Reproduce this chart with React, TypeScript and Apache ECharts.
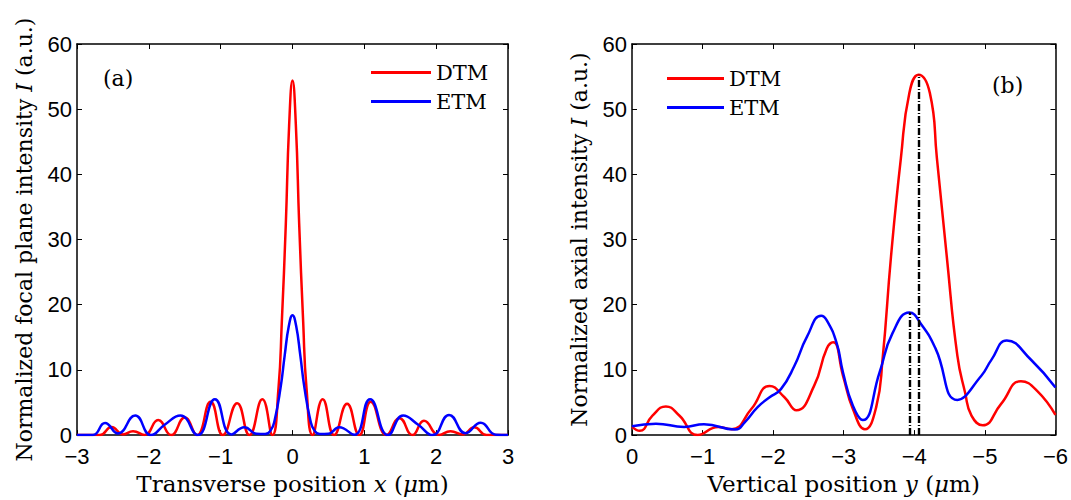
import React, { useEffect, useRef } from 'react';
import * as echarts from 'echarts';

// ---- Panel (a): transverse position x (µm) ----
const aDtmX = [-3, -2.68, -2.52, -2.36, -2.22, -2.06, -1.87, -1.69, -1.5, -1.33, -1.14, -0.97, -0.77, -0.6, -0.42, -0.28, -0.195, -0.149, -0.093, -0.047, 0, 0.047, 0.093, 0.149, 0.195, 0.28, 0.42, 0.58, 0.76, 0.93, 1.09, 1.31, 1.49, 1.67, 1.83, 2.04, 2.2, 2.37, 2.53, 2.7, 3];
const aDtmY = [0, 0.02, 1.25, 0.1, 0.6, 0.03, 2.3, 0, 2.7, 0, 5.1, 0, 4.9, 0, 5.5, 0, 7.2, 17.3, 32.4, 47.5, 54.4, 47.5, 32.4, 17.3, 7.2, 0, 5.5, 0, 4.8, 0, 5.1, 0, 2.6, 0, 2.2, 0.03, 0.6, 0.1, 1.2, 0.02, 0];
const aEtmX = [-3, -2.78, -2.61, -2.43, -2.19, -1.97, -1.78, -1.56, -1.32, -1.08, -0.85, -0.67, -0.5, -0.38, -0.3, -0.25, -0.167, -0.109, -0.05, 0, 0.05, 0.109, 0.167, 0.25, 0.3, 0.38, 0.5, 0.65, 0.86, 1.08, 1.33, 1.54, 1.75, 1.95, 2.18, 2.41, 2.62, 2.83, 3];
const aEtmY = [0, 0.02, 1.86, 0.25, 3.0, 0, 1.6, 3.0, 0, 5.5, 0.1, 1.2, 0.2, 0.15, 0.8, 2.2, 7.2, 12.2, 16.8, 18.4, 16.8, 12.2, 7.2, 2.2, 0.8, 0.15, 0.2, 1.2, 0.05, 5.5, 0, 3.0, 1.6, 0, 3.1, 0.3, 1.9, 0.05, 0];

// ---- Panel (b): vertical position y (µm) ----
const bDtmX = [0, -0.11, -0.29, -0.48, -0.67, -0.93, -1.22, -1.41, -1.69, -1.95, -2.16, -2.33, -2.58, -2.76, -2.85, -2.99, -3.13, -3.3, -3.46, -3.55, -3.67, -3.81, -3.93, -4.06, -4.22, -4.32, -4.46, -4.61, -4.72, -4.81, -4.97, -5.23, -5.51, -5.74, -6];
const bDtmY = [1.26, 0.65, 3.0, 4.4, 3.0, 0, 1.26, 0.9, 4.0, 7.55, 5.8, 3.8, 7.55, 13.3, 14.25, 9.1, 4.0, 0.9, 4.3, 11.6, 27.4, 42.5, 52.5, 55.3, 52.5, 42.5, 27.4, 12.2, 6.5, 3.0, 1.5, 4.8, 8.26, 6.8, 3.1];
const bEtmX = [0, -0.34, -0.74, -1.02, -1.46, -1.6, -1.78, -1.95, -2.11, -2.3, -2.48, -2.68, -2.76, -2.9, -2.99, -3.13, -3.27, -3.51, -3.69, -3.93, -4.11, -4.3, -4.61, -4.95, -5.09, -5.31, -5.65, -6];
const bEtmY = [1.36, 1.76, 1.26, 1.66, 0.86, 2.0, 4.3, 5.8, 7.05, 10.6, 15.1, 18.3, 17.6, 14.1, 9.6, 4.5, 2.3, 9.7, 15.6, 18.8, 16.8, 13.3, 5.4, 9.1, 11.5, 14.5, 11.6, 7.3];

// peak markers (dash-dot lines) in panel (b)
const peakX = [-3.93, -4.06];
const peakY = [18.8, 55.3];

const seriesNames = ['DTM', 'ETM'];
const yTicks = { min: 0, max: 60, interval: 10 };

const zip = (xs: number[], ys: number[]) => xs.map((x, i) => [x, ys[i]]);
const fmt = (v: number) => (v < 0 ? '\u2212' + Math.abs(v) : String(v));

export default function App() {
  const ref = useRef<HTMLDivElement>(null);
  useEffect(() => {
    if (!ref.current) return;
    const chart = echarts.init(ref.current, undefined, { renderer: 'svg' });
    const serif = 'DejaVu Serif';
    const sans = 'Liberation Sans';
    const axisLine = { show: true, onZero: false, lineStyle: { color: '#000', width: 1.5 } };
    const axisTick = { show: true, inside: true, length: 5, lineStyle: { color: '#000', width: 1 } };
    const label = { fontFamily: sans, fontSize: 22, color: '#000' };
    const nameStyle = (size: number) => ({
      fontFamily: serif,
      fontSize: size,
      color: '#000',
      rich: {
        i: { fontFamily: serif, fontSize: size, fontStyle: 'italic', color: '#000' },
      },
    });
    const grids = [
      { left: 77, right: 563, top: 44, bottom: 59 },
      { left: 632, right: 9, top: 44, bottom: 59 },
    ];
    const hidden = { show: false };
    const xAxis: any[] = [
      {
        type: 'value', gridIndex: 0, min: -3, max: 3, interval: 1, position: 'bottom',
        axisLine, axisTick, splitLine: hidden,
        axisLabel: { ...label, margin: 10, formatter: fmt },
        name: 'Transverse position {i|x} ({i|\u03bc}m)', nameLocation: 'middle', nameGap: 30,
        nameTextStyle: nameStyle(23),
      },
      {
        type: 'value', gridIndex: 0, min: -3, max: 3, interval: 1, position: 'top',
        axisLine, axisTick, splitLine: hidden, axisLabel: hidden,
      },
      {
        type: 'value', gridIndex: 1, min: -6, max: 0, interval: 1, inverse: true, position: 'bottom',
        axisLine, axisTick, splitLine: hidden,
        axisLabel: { ...label, margin: 10, formatter: fmt },
        name: 'Vertical position {i|y} ({i|\u03bc}m)', nameLocation: 'middle', nameGap: 30,
        nameTextStyle: nameStyle(23),
      },
      {
        type: 'value', gridIndex: 1, min: -6, max: 0, interval: 1, inverse: true, position: 'top',
        axisLine, axisTick, splitLine: hidden, axisLabel: hidden,
      },
    ];
    const yAxis: any[] = [
      {
        type: 'value', gridIndex: 0, ...yTicks, position: 'left',
        axisLine, axisTick, splitLine: hidden,
        axisLabel: { ...label, margin: 5 },
        name: 'Normalized focal plane intensity {i|I} (a.u.)', nameLocation: 'middle', nameGap: 42,
        nameTextStyle: nameStyle(22),
      },
      {
        type: 'value', gridIndex: 0, ...yTicks, position: 'right',
        axisLine, axisTick, splitLine: hidden, axisLabel: hidden,
      },
      {
        type: 'value', gridIndex: 1, ...yTicks, position: 'left',
        axisLine, axisTick, splitLine: hidden,
        axisLabel: { ...label, margin: 5 },
        name: 'Normalized axial intensity {i|I} (a.u.)', nameLocation: 'middle', nameGap: 42,
        nameTextStyle: nameStyle(22),
      },
      {
        type: 'value', gridIndex: 1, ...yTicks, position: 'right',
        axisLine, axisTick, splitLine: hidden, axisLabel: hidden,
      },
    ];
    const line = (name: string, color: string, data: number[][], xi: number, extra: any = {}) => ({
      type: 'line', name, xAxisIndex: xi, yAxisIndex: xi, data, smooth: 0.5,
      symbol: 'none', showSymbol: false, clip: true,
      lineStyle: { color, width: 2.5 }, itemStyle: { color },
      ...extra,
    });
    const markLine = {
      silent: true,
      symbol: ['none', 'none'],
      label: { show: false },
      lineStyle: { color: '#000', width: 2.4, type: [7, 2, 1, 2] },
      data: peakX.map((x, i) => [{ coord: [x, 0] }, { coord: [x, peakY[i]] }]),
    };
    const legendCommon = {
      orient: 'vertical', itemGap: 8, itemHeight: 3, icon: 'rect', padding: 0,
      textStyle: { fontFamily: serif, fontSize: 21, color: '#000' },
      data: seriesNames, selectedMode: false,
    };
    chart.setOption({
      animation: false,
      backgroundColor: '#fff',
      grid: grids,
      xAxis,
      yAxis,
      legend: [
        { ...legendCommon, left: 371, top: 62, itemWidth: 60 },
        { ...legendCommon, left: 667, top: 68, itemWidth: 57 },
      ],
      graphic: [
        { type: 'text', left: 103, top: 67, style: { text: '(a)', font: `22px "${serif}"`, fill: '#000' } },
        { type: 'text', left: 992, top: 74, style: { text: '(b)', font: `22px "${serif}"`, fill: '#000' } },
      ],
      series: [
        line(seriesNames[0], '#ff0000', zip(aDtmX, aDtmY), 0),
        line(seriesNames[1], '#0000ff', zip(aEtmX, aEtmY), 0),
        line(seriesNames[0], '#ff0000', zip(bDtmX, bDtmY), 2),
        line(seriesNames[1], '#0000ff', zip(bEtmX, bEtmY), 2, { markLine }),
      ],
    });
    return () => chart.dispose();
  }, []);
  return <div ref={ref} style={{ position: 'fixed', left: 0, top: 0, width: 1071, height: 500 }} />;
}
